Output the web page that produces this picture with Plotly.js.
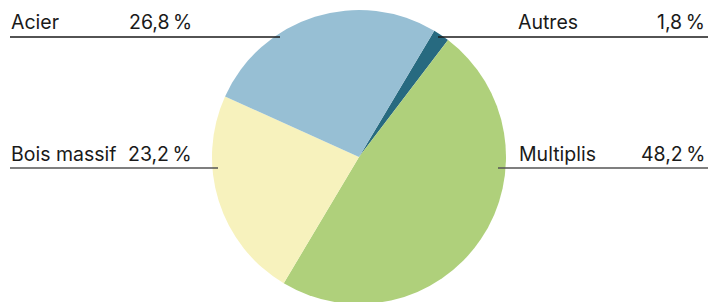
<!DOCTYPE html>
<html>
<head>
<meta charset="utf-8">
<script src="https://cdn.plot.ly/plotly-3.0.1.min.js"></script>
<style>
html,body{margin:0;padding:0;overflow:hidden;background:#fff;}
#chart{width:710px;height:310px;}
</style>
</head>
<body>
<div id="chart"></div>
<script>
const categories = ["Autres", "Multiplis", "Bois massif", "Acier"];
const shares = [1.8, 48.2, 23.2, 26.8];
const valueLabels = ["1,8\u202F%", "48,2\u202F%", "23,2\u202F%", "26,8\u202F%"];
const colors = ["#276a80", "#afd07b", "#f7f2bd", "#97bfd4"];

const W = 710, H = 310;
const px = x => x / W;
const py = y => 1 - y / H;

const trace = {
  type: "pie",
  labels: categories,
  values: shares,
  sort: false,
  direction: "clockwise",
  rotation: 30.8,
  marker: {colors: colors, line: {width: 0}},
  textinfo: "none",
  hoverinfo: "label+percent",
  showlegend: false,
  domain: {x: [px(359 - 147), px(359 + 147)], y: [py(157 + 147), py(157 - 147)]}
};

const labelPos = {
  "Acier":       {name: [10, 35, "left"],  val: [193, 35], line: [10, 280, 37, "#1a1a1a"]},
  "Bois massif": {name: [10, 167, "left"], val: [193, 167], line: [10, 218, 168, "#555555"]},
  "Autres":      {name: [517, 35, "left"], val: [706, 35], line: [438, 708, 37, "#1a1a1a"]},
  "Multiplis":   {name: [518, 167, "left"], val: [706, 167], line: [498, 708, 168, "#555555"]}
};

const font = {family: "Inter, 'Liberation Sans', Arial, sans-serif", size: 19.5, color: "#1a1a1a"};
const annotations = [];
const shapes = [];
categories.forEach((c, i) => {
  const p = labelPos[c];
  annotations.push({text: c, xref: "paper", yref: "paper", x: px(p.name[0]), y: py(p.name[1]),
    xanchor: "left", yanchor: "bottom", showarrow: false, font: font, borderpad: 0});
  annotations.push({text: valueLabels[i], xref: "paper", yref: "paper", x: px(p.val[0]), y: py(p.val[1]),
    xanchor: "right", yanchor: "bottom", showarrow: false, font: font, borderpad: 0});
  shapes.push({type: "line", xref: "paper", yref: "paper", layer: "above",
    x0: px(p.line[0]), x1: px(p.line[1]), y0: py(p.line[2]), y1: py(p.line[2]),
    line: {color: p.line[3], width: 1.5}});
});

const layout = {
  width: W, height: H,
  margin: {l: 0, r: 0, t: 0, b: 0},
  paper_bgcolor: "#fff",
  annotations: annotations,
  shapes: shapes
};
Plotly.newPlot("chart", [trace], layout, {displayModeBar: false, staticPlot: true});
</script>
</body>
</html>
